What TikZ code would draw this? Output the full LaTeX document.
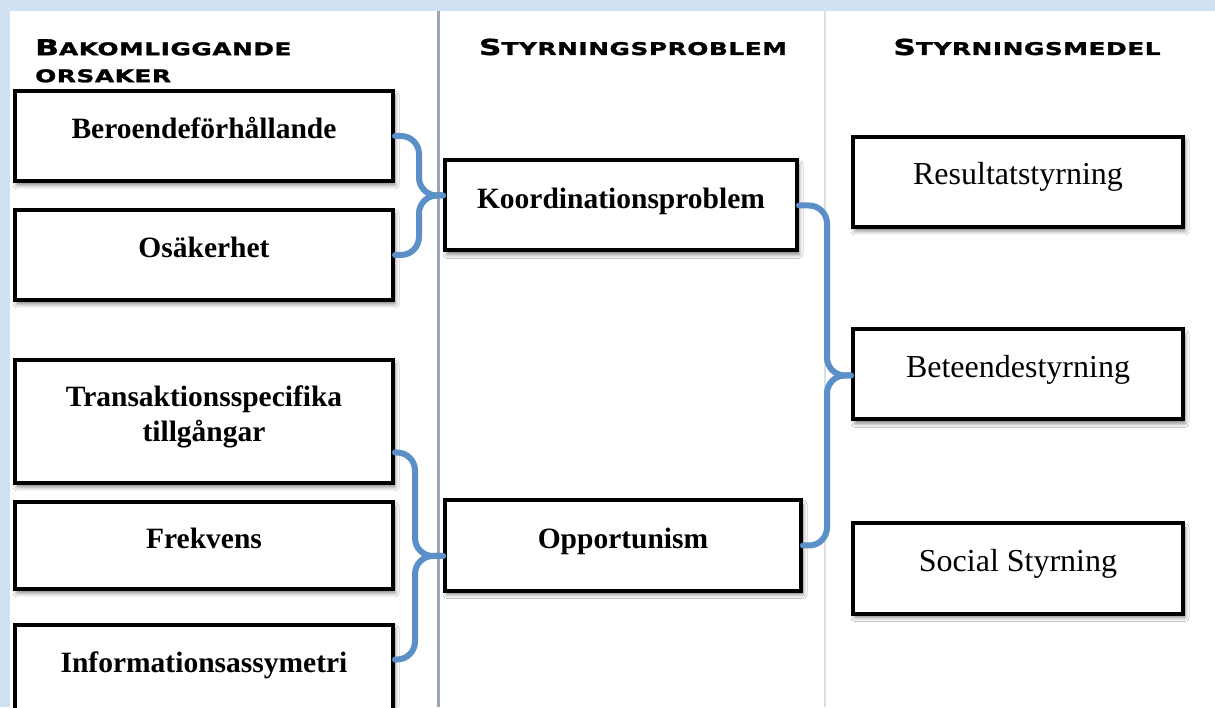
\documentclass[tikz,border=0pt]{standalone}
\usepackage{fontspec}
\setmainfont{Liberation Serif}
\newfontfamily\headfont{DejaVu Sans}[FakeStretch=1.42,LetterSpace=3,FakeBold=1.5]
\usetikzlibrary{calc,shadows.blur}

\definecolor{bandblue}{HTML}{D0E1F3}
\definecolor{bracketblue}{HTML}{5B8FC7}
\definecolor{divgray}{HTML}{9AA5B5}
\definecolor{lightdiv}{HTML}{DDE0E3}

% big initial, rest in small capitals
\newcommand\headword[2]{{\fontsize{22}{27}\selectfont #1}{\fontsize{17.5}{27}\selectfont #2}}

\begin{document}
\begin{tikzpicture}[x=1pt, y=1pt,
    box/.style={draw, line width=4pt, fill=white, inner sep=4pt,
      minimum width=378pt, minimum height=90pt,
      text height=20pt, text depth=14pt,
      blur shadow={shadow xshift=2pt, shadow yshift=-4pt,
        shadow blur radius=4pt, shadow opacity=50}},
    causebox/.style={box, font=\fontsize{29.5}{35}\selectfont\bfseries},
    meansbox/.style={box, minimum width=330pt, font=\fontsize{32}{36}\selectfont},
    head/.style={font=\headfont\bfseries\fontsize{17.5}{27}\selectfont, inner sep=0pt},
    bracket/.style={draw=bracketblue, line width=6pt, rounded corners=18pt, line cap=round}]

  \useasboundingbox (0,0) rectangle (1215,707);
  \fill[bandblue] (0,0) rectangle (1215,707);

  % three white columns
  \foreach \xa/\xb in {10/437, 440/824, 826/1215}
    \fill[white] (\xa,0) rectangle (\xb,696);
  \draw[divgray, line width=2.5pt] (438.5,0) -- (438.5,696);
  \draw[lightdiv, line width=2pt] (825,0) -- (825,696);

  % column headings
  \node[head, anchor=north west, align=left] (hcause) at (35,668)
    {\headword{B}{AKOMLIGGANDE}\\\headword{}{ORSAKER}};
  \node[head, anchor=base] (hprob) at (633,652) {\headword{S}{TYRNINGSPROBLEM}};
  \node[head, anchor=base] (hmeans) at (1027,652) {\headword{S}{TYRNINGSMEDEL}};

  % underlying causes
  \node[causebox] (ber) at (204,571) {Beroendeförhållande};
  \node[causebox] (osa) at (204,452) {Osäkerhet};
  \node[causebox, minimum height=123pt, align=center, text height=55pt]
    (trans) at (204,285.5) {Transaktionsspecifika\\tillgångar};
  \node[causebox, minimum height=87pt] (frek) at (204,161.5) {Frekvens};
  \node[causebox] (info) at (204,37.5) {Informationsassymetri};

  % control problems
  \node[causebox, minimum width=352pt] (koord) at (621,501.5) {Koordinationsproblem};
  \node[causebox, minimum width=356pt] (opp) at (623,161.5) {Opportunism};

  % control means
  \node[meansbox] (res) at (1018,525) {Resultatstyrning};
  \node[meansbox] (bet) at (1018,332.5) {Beteendestyrning};
  \node[meansbox] (soc) at (1018,138.5) {Social Styrning};

  % braces
  \coordinate (m1) at ($(ber.east)!.5!(osa.east)$);
  \draw[bracket] (ber.east) -- ++(24,0) |- (m1 -| koord.west);
  \draw[bracket] (osa.east) -- ++(24,0) |- (m1 -| koord.west);

  \coordinate (t2) at ($(trans.east)+(0,-31)$);
  \coordinate (b2) at ($(info.east)+(0,10)$);
  \coordinate (m2) at ($(t2)!.5!(b2)$);
  \draw[bracket] (t2) -- ++(20,0) |- (m2 -| opp.west);
  \draw[bracket] (b2) -- ++(20,0) |- (m2 -| opp.west);

  \coordinate (v3) at ($(koord.east)+(28,0)$);
  \coordinate (m3) at ($(koord.east)!.5!(opp.east)$);
  \draw[bracket] (koord.east) -- (v3) |- (m3 -| bet.west);
  \draw[bracket] (opp.east) -- (opp.east -| v3) |- (m3 -| bet.west);
\end{tikzpicture}
\end{document}
